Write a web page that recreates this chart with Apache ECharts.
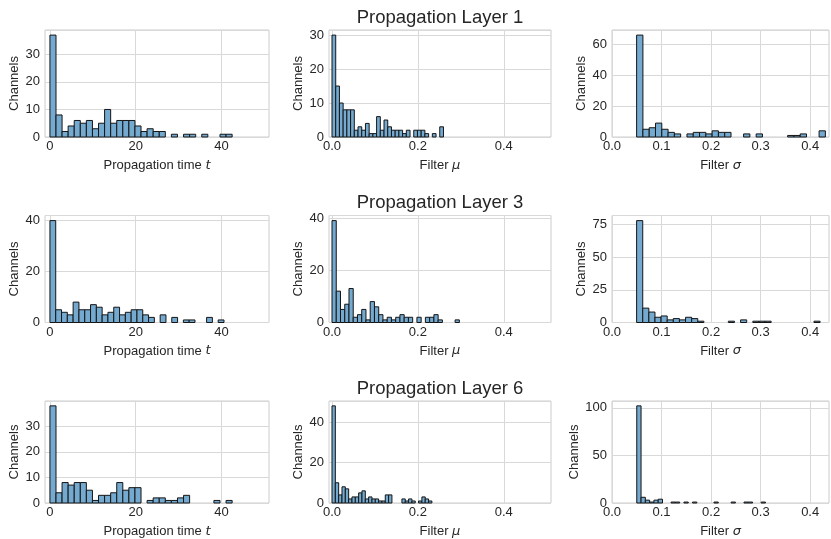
<!DOCTYPE html>
<html>
<head>
<meta charset="utf-8">
<script src="https://cdn.jsdelivr.net/npm/echarts@6/dist/echarts.min.js"></script>
<style>
html, body { margin: 0; padding: 0; background: #fff; }
#main { width: 831px; height: 539px; }
</style>
</head>
<body>
<div id="main"></div>
<script>
var layerTitles = ['Propagation Layer 1', 'Propagation Layer 3', 'Propagation Layer 6'];

// first and last bin edge of each histogram (30 bins each)
var timeRanges = [[0, 42.5], [0, 40.6], [0, 42.5]];
var muRanges = [[0, 0.2596], [0, 0.2966], [0, 0.2326]];
var sigmaRanges = [[0.0497, 0.4307], [0.0497, 0.42], [0.05, 0.3097]];

// channel counts per bin
var timeCounts1 = [37, 8, 2, 4, 6, 5, 6, 3, 5, 10, 5, 6, 6, 6, 4, 2, 3, 2, 2, 0, 1, 0, 1, 1, 0, 1, 0, 0, 1, 1];
var muCounts1 = [30, 15, 10, 8, 8, 8, 2, 3, 2, 4, 1, 1, 6, 2, 5, 3, 2, 2, 2, 1, 2, 0, 2, 2, 2, 1, 0, 1, 0, 3];
var sigmaCounts1 = [66, 5, 6, 9, 5, 3, 2, 0, 2, 3, 3, 2, 4, 3, 3, 0, 0, 2, 0, 2, 0, 0, 0, 0, 1, 1, 2, 0, 0, 4];
var timeCounts3 = [40, 5, 4, 3, 8, 5, 5, 7, 6, 3, 4, 6, 3, 4, 5, 5, 3, 2, 0, 3, 0, 2, 0, 1, 1, 0, 0, 2, 0, 1];
var muCounts3 = [39, 12, 5, 7, 13, 2, 3, 5, 1, 8, 6, 3, 1, 2, 1, 2, 3, 2, 2, 0, 2, 0, 2, 2, 3, 1, 0, 0, 0, 1];
var sigmaCounts3 = [78, 11, 8, 4, 5, 2, 3, 2, 4, 3, 1, 0, 0, 0, 0, 1, 0, 2, 0, 1, 1, 1, 0, 0, 0, 0, 0, 0, 0, 1];
var timeCounts6 = [38, 4, 8, 7, 8, 8, 5, 1, 3, 3, 4, 8, 5, 6, 6, 0, 1, 2, 2, 1, 1, 2, 3, 0, 0, 0, 0, 1, 0, 1];
var muCounts6 = [48, 10, 4, 8, 7, 2, 3, 3, 5, 6, 2, 3, 2, 2, 1, 1, 4, 4, 0, 0, 0, 2, 1, 2, 1, 0, 1, 3, 2, 1];
var sigmaCounts6 = [102, 6, 3, 1, 3, 4, 0, 0, 1, 1, 0, 1, 0, 1, 0, 0, 0, 0, 1, 0, 0, 0, 1, 0, 0, 1, 1, 0, 0, 1];

// tick labels
var timeTicks = [0, 20, 40];
var muTicks = [0, 0.2, 0.4];
var sigmaTicks = [0, 0.1, 0.2, 0.3, 0.4];
var countIntervals = [10, 10, 20, 20, 20, 25, 10, 20, 50];
</script>
<script>
var myChart = echarts.init(document.getElementById('main'));

var textColor = '#262626';
var font = 'Liberation Sans, Arial, sans-serif';

var panels = [
    [timeRanges[0], timeCounts1, 0], [muRanges[0], muCounts1, 1], [sigmaRanges[0], sigmaCounts1, 2],
    [timeRanges[1], timeCounts3, 0], [muRanges[1], muCounts3, 1], [sigmaRanges[1], sigmaCounts3, 2],
    [timeRanges[2], timeCounts6, 0], [muRanges[2], muCounts6, 1], [sigmaRanges[2], sigmaCounts6, 2]
];

var colLeft = [45, 329, 612];
var colWidth = [224, 222, 217];
var rowTop = [30, 215.5, 401];
var rowHeight = 107;

var colXMin = [-1.15, -0.007, 0];
var colXMax = [51.1, 0.51, 0.438];
var colTicks = [timeTicks, muTicks, sigmaTicks];
var colFmt = [
    function (v) { return String(Math.round(v)); },
    function (v) { return v.toFixed(1); },
    function (v) { return v.toFixed(1); }
];
var colName = ['Propagation time {i|t}', 'Filter {i|μ}', 'Filter {i|σ}'];

var grids = [], xAxes = [], yAxes = [], series = [], titles = [];

panels.forEach(function (p, k) {
    var row = Math.floor(k / 3), col = k % 3;
    var range = p[0], counts = p[1];
    var w = (range[1] - range[0]) / counts.length;
    var data = counts.map(function (c, i) {
        return [range[0] + i * w, range[0] + (i + 1) * w, c];
    });
    var maxCount = Math.max.apply(null, counts);

    grids.push({
        left: colLeft[col], top: rowTop[row], width: colWidth[col], height: rowHeight,
        show: true, borderColor: '#cccccc', borderWidth: 1, backgroundColor: 'transparent'
    });
    xAxes.push({
        gridIndex: k, type: 'value', min: colXMin[col], max: colXMax[col],
        axisLine: {show: false},
        axisTick: {show: false, customValues: colTicks[col]},
        axisLabel: {customValues: colTicks[col], formatter: colFmt[col], color: textColor,
            fontSize: 13, fontFamily: font, margin: 3},
        splitLine: {show: true, lineStyle: {color: '#d9d9d9', width: 1}},
        name: colName[col], nameLocation: 'middle', nameGap: 22,
        nameTextStyle: {color: textColor, fontSize: 13, fontFamily: font,
            rich: {i: {fontStyle: 'italic', fontFamily: 'DejaVu Sans', fontSize: 13, color: textColor}}}
    });
    yAxes.push({
        gridIndex: k, type: 'value', min: 0, max: maxCount * 1.05, interval: countIntervals[k],
        axisLine: {show: false}, axisTick: {show: false},
        axisLabel: {color: textColor, fontSize: 13, fontFamily: font, margin: 5, showMaxLabel: false},
        splitLine: {show: true, lineStyle: {color: '#d9d9d9', width: 1}},
        name: 'Channels', nameLocation: 'middle', nameGap: 24, nameRotate: 90,
        nameTextStyle: {color: textColor, fontSize: 13, fontFamily: font}
    });
    series.push({
        type: 'custom', xAxisIndex: k, yAxisIndex: k,
        data: data, encode: {x: [0, 1], y: 2},
        renderItem: function (params, api) {
            if (api.value(2) <= 0) return;
            var p0 = api.coord([api.value(0), api.value(2)]);
            var p1 = api.coord([api.value(1), 0]);
            return {
                type: 'rect',
                shape: {x: p0[0], y: p0[1], width: p1[0] - p0[0], height: p1[1] - p0[1]},
                style: {fill: '#74a9d0', stroke: '#151515', lineWidth: 1}
            };
        }
    });
});

layerTitles.forEach(function (t, r) {
    titles.push({
        text: t, left: 440, top: rowTop[r] - 22, textAlign: 'center', padding: 0,
        textStyle: {color: textColor, fontSize: 18.5, fontWeight: 'normal', fontFamily: font}
    });
});

option = {
    backgroundColor: '#ffffff',
    animation: false,
    title: titles,
    grid: grids,
    xAxis: xAxes,
    yAxis: yAxes,
    series: series
};

myChart.setOption(option);
window.addEventListener("resize", function () {
    myChart.resize();
});
</script>
</body>
</html>
